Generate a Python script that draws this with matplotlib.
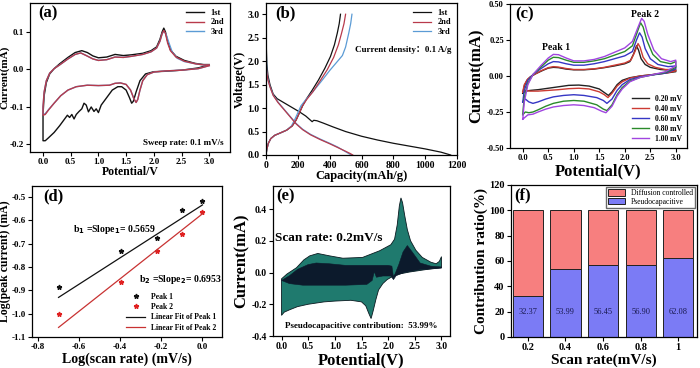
import numpy as np
import matplotlib
matplotlib.use("Agg")
import matplotlib.pyplot as plt

plt.rcParams['font.family'] = 'serif'
plt.rcParams['font.serif'] = ['Liberation Serif', 'DejaVu Serif']
plt.rcParams['font.weight'] = 'bold'
plt.rcParams['axes.labelweight'] = 'bold'
plt.rcParams['axes.unicode_minus'] = False
plt.rcParams['axes.linewidth'] = 0.9

# ---------------- (a) CV first three cycles ----------------
a_1st = [(3.0, 0.012), (2.8, 0.004), (2.5, -0.002), (2.2, -0.005), (2.0, -0.006), (1.85, -0.012),
         (1.75, -0.03), (1.68, -0.06), (1.63, -0.085), (1.6, -0.09), (1.56, -0.075), (1.5, -0.055),
         (1.42, -0.046), (1.35, -0.046), (1.25, -0.055), (1.15, -0.075), (1.05, -0.095), (1.0, -0.115),
         (0.96, -0.105), (0.92, -0.112), (0.87, -0.1), (0.82, -0.113), (0.78, -0.095), (0.74, -0.09),
         (0.7, -0.105), (0.65, -0.112), (0.6, -0.12), (0.56, -0.132), (0.52, -0.12), (0.48, -0.128),
         (0.44, -0.122), (0.4, -0.13), (0.3, -0.15), (0.2, -0.168), (0.1, -0.182), (0.04, -0.19),
         (0.0, -0.19), (0.0, -0.12), (0.02, -0.07), (0.06, -0.035), (0.12, -0.012), (0.2, 0.002),
         (0.3, 0.015), (0.45, 0.032), (0.58, 0.045), (0.7, 0.05), (0.8, 0.045), (0.9, 0.036),
         (1.0, 0.031), (1.15, 0.033), (1.3, 0.04), (1.45, 0.037), (1.6, 0.039), (1.8, 0.043),
         (1.95, 0.05), (2.05, 0.06), (2.11, 0.08), (2.15, 0.1), (2.18, 0.11), (2.21, 0.1),
         (2.25, 0.075), (2.3, 0.052), (2.4, 0.035), (2.55, 0.024), (2.75, 0.016), (2.9, 0.013), (3.0, 0.013)]
a_2nd = [(3.0, 0.01), (2.8, 0.002), (2.5, -0.002), (2.2, -0.004), (2.0, -0.007), (1.88, -0.014),
         (1.8, -0.03), (1.75, -0.055), (1.71, -0.08), (1.68, -0.088), (1.64, -0.078), (1.58, -0.055),
         (1.5, -0.04), (1.4, -0.036), (1.3, -0.037), (1.2, -0.042), (1.0, -0.043), (0.8, -0.042),
         (0.6, -0.046), (0.45, -0.055), (0.32, -0.07), (0.2, -0.09), (0.1, -0.108), (0.04, -0.12),
         (0.0, -0.122), (0.0, -0.1), (0.02, -0.06), (0.06, -0.03), (0.12, -0.01), (0.2, 0.002),
         (0.3, 0.012), (0.45, 0.028), (0.58, 0.04), (0.68, 0.044), (0.78, 0.037), (0.9, 0.028),
         (1.0, 0.024), (1.15, 0.026), (1.3, 0.033), (1.45, 0.032), (1.6, 0.035), (1.8, 0.04),
         (1.95, 0.047), (2.05, 0.057), (2.11, 0.075), (2.15, 0.095), (2.18, 0.104), (2.21, 0.096),
         (2.25, 0.07), (2.3, 0.05), (2.4, 0.033), (2.55, 0.022), (2.75, 0.015), (2.9, 0.012), (3.0, 0.012)]
a_3rd = [(3.0, 0.01), (2.8, 0.002), (2.5, -0.002), (2.2, -0.004), (2.0, -0.007), (1.88, -0.014),
         (1.8, -0.03), (1.75, -0.055), (1.71, -0.08), (1.68, -0.088), (1.64, -0.078), (1.58, -0.055),
         (1.5, -0.04), (1.4, -0.036), (1.3, -0.037), (1.2, -0.042), (1.0, -0.043), (0.8, -0.042),
         (0.6, -0.046), (0.45, -0.055), (0.32, -0.07), (0.2, -0.09), (0.1, -0.107), (0.04, -0.118),
         (0.0, -0.12), (0.0, -0.1), (0.02, -0.06), (0.06, -0.03), (0.12, -0.01), (0.2, 0.002),
         (0.3, 0.012), (0.45, 0.028), (0.58, 0.04), (0.68, 0.044), (0.78, 0.037), (0.9, 0.028),
         (1.0, 0.024), (1.15, 0.026), (1.3, 0.033), (1.45, 0.032), (1.6, 0.035), (1.8, 0.04),
         (1.95, 0.047), (2.05, 0.057), (2.11, 0.075), (2.15, 0.095), (2.18, 0.102), (2.22, 0.094),
         (2.27, 0.072), (2.33, 0.047), (2.42, 0.03), (2.55, 0.021), (2.75, 0.015), (2.9, 0.012), (3.0, 0.012)]

# ---------------- (b) charge / discharge ----------------
b_dis_1st = [(0, 2.8), (2, 2.3), (5, 1.95), (12, 1.7), (25, 1.5), (45, 1.3), (70, 1.2), (110, 1.12),
             (160, 1.02), (210, 0.92), (250, 0.83), (280, 0.74), (290, 0.71), (300, 0.74), (320, 0.73),
             (360, 0.68), (420, 0.6), (500, 0.5), (600, 0.4), (700, 0.32), (800, 0.25), (900, 0.19),
             (1000, 0.13), (1100, 0.06), (1160, 0.0)]
b_dis_2nd = [(0, 1.95), (5, 1.75), (12, 1.6), (25, 1.45), (45, 1.27), (75, 1.12), (110, 0.98),
             (150, 0.82), (190, 0.66), (230, 0.54), (280, 0.43), (340, 0.33), (400, 0.24), (450, 0.16),
             (500, 0.08), (530, 0.03), (545, 0.0)]
b_dis_3rd = [(0, 2.7), (2, 2.2), (5, 1.8), (12, 1.62), (25, 1.46), (45, 1.28), (75, 1.13), (110, 0.99),
             (150, 0.83), (190, 0.67), (230, 0.55), (280, 0.44), (340, 0.34), (400, 0.25), (450, 0.17),
             (490, 0.09), (520, 0.03), (535, 0.0)]
b_chg_1st = [(0, 0.0), (5, 0.12), (15, 0.25), (30, 0.35), (55, 0.42), (90, 0.47), (130, 0.53),
             (165, 0.62), (190, 0.75), (210, 0.9), (230, 1.05), (255, 1.2), (290, 1.38), (330, 1.6),
             (370, 1.85), (405, 2.1), (430, 2.35), (448, 2.6), (460, 2.8), (468, 3.0)]
b_chg_2nd = [(0, 0.0), (5, 0.12), (15, 0.25), (30, 0.35), (55, 0.42), (90, 0.47), (130, 0.53),
             (165, 0.62), (190, 0.75), (210, 0.9), (230, 1.05), (255, 1.18), (295, 1.35), (340, 1.58),
             (385, 1.82), (425, 2.08), (455, 2.35), (475, 2.6), (490, 2.8), (500, 3.0)]
b_chg_3rd = [(0, 0.0), (5, 0.12), (15, 0.25), (30, 0.35), (55, 0.42), (90, 0.47), (130, 0.53),
             (160, 0.62), (180, 0.75), (200, 0.9), (220, 1.05), (250, 1.18), (295, 1.35), (345, 1.56),
             (400, 1.8), (450, 2.0), (480, 2.12), (500, 2.3), (520, 2.6), (532, 2.8), (540, 3.0)]

# ---------------- (c) CV at different scan rates ----------------
c_labels = ['0.20 mV', '0.40 mV', '0.60 mV', '0.80 mV', '1.00 mV']
c_020 = [(0.0, -0.12), (0.03, -0.07), (0.08, -0.03), (0.15, -0.005), (0.25, 0.015), (0.4, 0.04),
         (0.5, 0.055), (0.6, 0.06), (0.7, 0.058), (0.85, 0.048), (1.0, 0.043), (1.2, 0.043),
         (1.4, 0.048), (1.6, 0.058), (1.8, 0.07), (2.0, 0.085), (2.1, 0.1), (2.17, 0.15), (2.23, 0.21),
         (2.27, 0.18), (2.32, 0.12), (2.4, 0.08), (2.5, 0.06), (2.7, 0.045), (2.9, 0.04), (3.0, 0.04),
         (3.0, 0.03), (2.8, 0.02), (2.5, 0.008), (2.3, 0.0), (2.1, -0.012), (1.95, -0.03),
         (1.85, -0.06), (1.75, -0.11), (1.68, -0.135), (1.62, -0.12), (1.5, -0.09), (1.3, -0.07),
         (1.1, -0.063), (0.9, -0.065), (0.7, -0.075), (0.5, -0.085), (0.3, -0.095), (0.15, -0.1),
         (0.05, -0.105), (0.0, -0.12)]
c_040 = [(0.0, -0.11), (0.03, -0.06), (0.1, -0.02), (0.2, 0.005), (0.35, 0.035), (0.5, 0.058),
         (0.6, 0.065), (0.7, 0.062), (0.85, 0.052), (1.0, 0.045), (1.2, 0.045), (1.4, 0.05),
         (1.6, 0.06), (1.8, 0.075), (2.0, 0.09), (2.12, 0.11), (2.2, 0.17), (2.26, 0.225), (2.3, 0.2),
         (2.36, 0.13), (2.45, 0.085), (2.6, 0.06), (2.8, 0.045), (3.0, 0.045),
         (3.0, 0.035), (2.8, 0.02), (2.5, 0.008), (2.3, 0.0), (2.1, -0.015), (1.95, -0.04),
         (1.85, -0.07), (1.75, -0.12), (1.67, -0.15), (1.6, -0.13), (1.5, -0.11), (1.3, -0.09),
         (1.1, -0.085), (0.9, -0.088), (0.7, -0.095), (0.5, -0.1), (0.3, -0.105), (0.15, -0.105),
         (0.05, -0.1), (0.0, -0.11)]
c_060 = [(0.0, -0.18), (0.03, -0.1), (0.1, -0.03), (0.2, 0.01), (0.35, 0.05), (0.5, 0.085),
         (0.6, 0.1), (0.7, 0.098), (0.85, 0.085), (1.0, 0.075), (1.2, 0.075), (1.4, 0.085),
         (1.6, 0.1), (1.8, 0.12), (2.0, 0.14), (2.15, 0.17), (2.23, 0.25), (2.29, 0.3), (2.34, 0.27),
         (2.4, 0.19), (2.5, 0.12), (2.65, 0.08), (2.85, 0.065), (3.0, 0.07),
         (3.0, 0.05), (2.8, 0.02), (2.5, 0.005), (2.3, -0.005), (2.1, -0.025), (1.95, -0.06),
         (1.85, -0.1), (1.75, -0.16), (1.65, -0.19), (1.58, -0.17), (1.45, -0.15), (1.2, -0.135),
         (1.0, -0.13), (0.8, -0.135), (0.6, -0.145), (0.45, -0.16), (0.3, -0.18), (0.2, -0.19),
         (0.12, -0.18), (0.05, -0.16), (0.0, -0.18)]
c_080 = [(0.0, -0.26), (0.03, -0.15), (0.1, -0.05), (0.2, 0.01), (0.35, 0.06), (0.5, 0.11),
         (0.6, 0.13), (0.7, 0.128), (0.85, 0.11), (1.0, 0.095), (1.2, 0.095), (1.4, 0.105),
         (1.6, 0.12), (1.8, 0.145), (2.0, 0.17), (2.15, 0.21), (2.24, 0.3), (2.31, 0.37), (2.36, 0.34),
         (2.43, 0.25), (2.55, 0.15), (2.7, 0.1), (2.9, 0.085), (3.0, 0.1),
         (3.0, 0.06), (2.8, 0.025), (2.5, 0.005), (2.3, -0.01), (2.1, -0.035), (1.95, -0.08),
         (1.85, -0.13), (1.75, -0.2), (1.65, -0.24), (1.58, -0.23), (1.45, -0.2), (1.2, -0.175),
         (1.0, -0.17), (0.8, -0.175), (0.6, -0.19), (0.45, -0.21), (0.3, -0.235), (0.2, -0.25),
         (0.12, -0.255), (0.05, -0.25), (0.0, -0.27)]
c_100 = [(0.0, -0.3), (0.03, -0.18), (0.1, -0.06), (0.2, 0.01), (0.35, 0.07), (0.5, 0.125),
         (0.6, 0.15), (0.7, 0.148), (0.85, 0.125), (1.0, 0.105), (1.2, 0.105), (1.4, 0.115),
         (1.6, 0.135), (1.8, 0.165), (2.0, 0.195), (2.15, 0.24), (2.25, 0.33), (2.33, 0.4), (2.38, 0.38),
         (2.45, 0.29), (2.57, 0.18), (2.72, 0.12), (2.9, 0.1), (3.0, 0.11),
         (3.0, 0.07), (2.8, 0.03), (2.5, 0.005), (2.3, -0.01), (2.1, -0.04), (1.95, -0.09),
         (1.85, -0.14), (1.75, -0.21), (1.63, -0.255), (1.55, -0.245), (1.4, -0.22), (1.2, -0.205),
         (1.0, -0.2), (0.8, -0.205), (0.6, -0.215), (0.45, -0.23), (0.3, -0.25), (0.2, -0.265),
         (0.1, -0.27), (0.0, -0.3)]

# ---------------- (d) log(i) vs log(v) ----------------
d_logv = [-0.699, -0.398, -0.222, -0.097, 0.0]
d_peak1 = [-0.887, -0.732, -0.675, -0.557, -0.52]
d_peak2 = [-1.0, -0.866, -0.732, -0.66, -0.567]
d_slope1, d_icpt1 = 0.5659, -0.535
d_slope2, d_icpt2 = 0.6953, -0.573

# ---------------- (e) capacitive contribution at 0.2 mV/s ----------------
e_total = [(0.0, -0.04), (0.1, -0.01), (0.28, 0.03), (0.42, 0.08), (0.53, 0.105), (0.68, 0.12),
           (0.9, 0.105), (1.15, 0.09), (1.52, 0.095), (1.84, 0.137), (2.05, 0.175), (2.12, 0.21),
           (2.17, 0.3), (2.21, 0.42), (2.24, 0.47), (2.27, 0.44), (2.31, 0.36), (2.36, 0.27),
           (2.42, 0.2), (2.52, 0.14), (2.64, 0.095), (2.8, 0.065), (2.9, 0.055), (2.96, 0.07),
           (3.0, 0.1), (3.0, 0.03), (2.7, 0.018), (2.4, 0.003), (2.2, -0.01), (2.08, -0.025),
           (1.98, -0.045), (1.9, -0.07), (1.82, -0.11), (1.77, -0.17), (1.72, -0.24), (1.68, -0.29),
           (1.64, -0.26), (1.58, -0.21), (1.5, -0.185), (1.3, -0.175), (1.0, -0.18), (0.8, -0.185),
           (0.5, -0.2), (0.3, -0.215), (0.15, -0.235), (0.05, -0.25), (0.0, -0.27)]
e_capacitive = [(0.0, -0.05), (0.15, -0.02), (0.3, 0.02), (0.5, 0.05), (0.65, 0.06), (0.9, 0.055),
                (1.2, 0.045), (1.6, 0.045), (2.0, 0.045), (2.07, 0.04), (2.1, -0.03), (2.14, 0.0),
                (2.2, 0.05), (2.28, 0.13), (2.36, 0.17), (2.45, 0.13), (2.6, 0.06), (2.8, 0.04),
                (3.0, 0.035), (3.0, 0.028), (2.6, 0.018), (2.3, 0.0), (2.15, -0.02), (2.1, -0.045),
                (2.05, -0.022), (1.9, -0.022), (1.78, -0.03), (1.74, 0.005), (1.7, -0.05),
                (1.6, -0.075), (1.2, -0.08), (0.8, -0.08), (0.4, -0.08), (0.15, -0.07), (0.0, -0.05)]

# ---------------- (f) contribution ratio ----------------
f_rates = ['0.2', '0.4', '0.6', '0.8', '1']
f_pseudo = [32.37, 53.99, 56.45, 56.90, 62.08]
f_diffusion = [67.63, 46.01, 43.55, 43.10, 37.92]

W, H = 700, 368
fig = plt.figure(figsize=(7.0, 3.68), dpi=100)


def add_ax(l, t, r, b):
    return fig.add_axes([l / W, 1 - b / H, (r - l) / W, (b - t) / H])


def xy(pts):
    arr = np.array(pts)
    return arr[:, 0], arr[:, 1]


def style(ax, fs):
    ax.tick_params(direction='out', length=3, width=0.8, labelsize=fs, pad=1.5)
    for lab in ax.get_xticklabels() + ax.get_yticklabels():
        lab.set_fontweight('bold')


# (a)
ax = add_ax(30, 3, 230, 152)
ax.plot(*xy(a_1st), color='#111111', lw=1.0, label='1st')
ax.plot(*xy(a_3rd), color='#5b9bd5', lw=1.0, label='3rd', zorder=2)
ax.plot(*xy(a_2nd), color='#b83a4b', lw=1.0, label='2nd', zorder=3)
ax.set_xlim(-0.235, 3.375)
ax.set_ylim(-0.22, 0.177)
ax.set_xticks(np.arange(0, 3.01, 0.5))
ax.set_yticks([-0.2, -0.1, 0.0, 0.1])
ax.set_xlabel('Potential/V', fontsize=8.5, labelpad=0)
ax.set_ylabel('Current(mA)', fontsize=8, labelpad=0)
h, l = ax.get_legend_handles_labels()
ax.legend([h[0], h[2], h[1]], [l[0], l[2], l[1]], loc='upper right', frameon=False, fontsize=6,
          handlelength=2.2, labelspacing=0.2, borderaxespad=0.3)
ax.text(0.04, 0.93, '(a)', transform=ax.transAxes, fontsize=12, va='center')
ax.text(0.97, 0.05, 'Sweep rate: 0.1 mV/s', transform=ax.transAxes, fontsize=6.5, ha='right')
style(ax, 6.5)

# (b)
ax = add_ax(266, 3, 457, 155)
ax.plot(*xy(b_dis_1st), color='#111111', lw=0.9, label='1st')
ax.plot(*xy(b_chg_1st), color='#111111', lw=0.9)
ax.plot(*xy(b_dis_3rd), color='#5b9bd5', lw=0.9, label='3rd')
ax.plot(*xy(b_chg_3rd), color='#5b9bd5', lw=0.9)
ax.plot(*xy(b_dis_2nd), color='#b83a4b', lw=0.9, label='2nd')
ax.plot(*xy(b_chg_2nd), color='#b83a4b', lw=0.9)
ax.set_xlim(0, 1200)
ax.set_ylim(0, 3.24)
ax.set_xticks(np.arange(0, 1201, 200))
ax.set_yticks(np.arange(0, 3.01, 0.5))
ax.set_xlabel('Capacity(mAh/g)', fontsize=9, labelpad=0)
ax.set_ylabel('Voltage(V)', fontsize=9, labelpad=1)
h, l = ax.get_legend_handles_labels()
ax.legend([h[0], h[2], h[1]], [l[0], l[2], l[1]], loc='upper right', frameon=False, fontsize=6,
          handlelength=2.2, labelspacing=0.2, borderaxespad=0.3)
ax.text(0.05, 0.93, '(b)', transform=ax.transAxes, fontsize=12, va='center')
ax.text(0.97, 0.68, 'Current density\uff1a0.1 A/g', transform=ax.transAxes, fontsize=6.5,
        ha='right', family=['Liberation Serif', 'Noto Sans CJK SC'])
style(ax, 7)

# (c)
ax = add_ax(510, 4, 687, 148)
c_colors = ['#222222', '#cc3b33', '#3636c4', '#2a8a2a', '#a045e0']
for pts, col, lab in zip([c_020, c_040, c_060, c_080, c_100], c_colors, c_labels):
    ax.plot(*xy(pts), color=col, lw=1.0, label=lab)
ax.set_xlim(-0.25, 3.22)
ax.set_ylim(-0.5, 0.5)
ax.set_xticks(np.arange(0, 3.01, 0.5))
ax.set_yticks([-0.5, -0.25, 0.0, 0.25, 0.5])
ax.set_yticklabels(['-0.50', '-0.25', '0.00', '0.25', '0.50'])
ax.set_xlabel('Potential(V)', fontsize=12, labelpad=1)
ax.set_ylabel('Current(mA)', fontsize=12, labelpad=1)
ax.legend(loc='lower right', frameon=False, fontsize=5.5, handlelength=2.2, labelspacing=0.25,
          borderaxespad=0.3)
ax.text(0.03, 0.93, '(c)', transform=ax.transAxes, fontsize=12, va='center')
ax.text(0.65, 0.2, 'Peak 1', fontsize=7, ha='center', va='center')
ax.text(2.39, 0.43, 'Peak 2', fontsize=7, ha='center', va='center')
style(ax, 6)

# (d)
ax = add_ax(32, 186, 222, 337)
ax.plot(d_logv, d_peak1, '*', color='#111111', ms=3.5, ls='none', label='Peak 1')
ax.plot(d_logv, d_peak2, '*', color='#e02020', ms=3.5, ls='none', label='Peak 2')
fx = np.array([d_logv[0], d_logv[-1]])
ax.plot(fx, d_icpt1 + d_slope1 * fx, color='#111111', lw=0.9, label='Linear Fit of Peak 1')
ax.plot(fx, d_icpt2 + d_slope2 * fx, color='#c83232', lw=0.9, label='Linear Fit of Peak 2')
ax.set_xlim(-0.828, 0.095)
ax.set_ylim(-1.1, -0.454)
ax.set_xticks(np.arange(-0.8, 0.01, 0.2))
ax.set_yticks(np.arange(-1.1, -0.49, 0.1))
ax.set_xticklabels(['-0.8', '-0.6', '-0.4', '-0.2', '0.0'])
ax.set_yticklabels(['-1.1', '-1.0', '-0.9', '-0.8', '-0.7', '-0.6', '-0.5'])
ax.set_xlabel('Log(scan rate) (mV/s)', fontsize=10, labelpad=1)
ax.set_ylabel('Log(peak current) (mA)', fontsize=8.5, labelpad=0)
ax.legend(loc='lower right', frameon=False, fontsize=5.5, handlelength=2.5, labelspacing=0.3,
          borderaxespad=0.3)
ax.text(0.06, 0.93, '(d)', transform=ax.transAxes, fontsize=12, va='center')
ax.text(-0.63, -0.638, 'b$_1$ =Slope$_1$= 0.5659', fontsize=7, va='center')
ax.text(-0.31, -0.852, 'b$_2$ =Slope$_2$= 0.6953', fontsize=7, va='center')
style(ax, 6.5)

# (e)
ax = add_ax(273, 186, 450, 336)
ex, ey = xy(e_total)
ax.fill(ex, ey, facecolor='#1f7a6e', edgecolor='#0a1a20', lw=0.6)
cx, cy = xy(e_capacitive)
ax.fill(cx, cy, facecolor='#0c1a2c', edgecolor='#0c1a2c', lw=0.4)
ax.set_xlim(-0.16, 3.16)
ax.set_ylim(-0.4, 0.545)
ax.set_xticks(np.arange(0, 3.01, 0.5))
ax.set_yticks([-0.4, -0.2, 0.0, 0.2, 0.4])
ax.set_xlabel('Potential(V)', fontsize=12, labelpad=1)
ax.set_ylabel('Current(mA)', fontsize=12, labelpad=1)
ax.text(0.02, 0.93, '(e)', transform=ax.transAxes, fontsize=12, va='center')
ax.text(-0.12, 0.22, 'Scan rate: 0.2mV/s', fontsize=9.5, va='center')
ax.text(0.06, -0.34, 'Pseudocapacitive contribution:  53.99%', fontsize=6.5, va='center')
style(ax, 7)

# (f)
ax = add_ax(511, 185, 697, 337)
pos = np.arange(len(f_rates))
ax.bar(pos, f_pseudo, width=0.8, color='#7b7bf5', edgecolor='#222222', lw=0.7,
       label='Pseudocapacitive')
ax.bar(pos, f_diffusion, width=0.8, bottom=f_pseudo, color='#f77f7f', edgecolor='#222222', lw=0.7,
       label='Diffusion controlled')
for p, v in zip(pos, f_pseudo):
    ax.text(p, 20, '%.2f' % v, ha='center', va='center', fontsize=6, fontweight='normal',
            color='#1a1a50')
ax.set_xlim(-0.45, 4.5)
ax.set_ylim(0, 120)
ax.set_xticks(pos)
ax.set_xticklabels(f_rates)
ax.set_yticks(np.arange(0, 121, 20))
ax.set_xlabel('Scan rate(mV/s)', fontsize=11, labelpad=1)
ax.set_ylabel('Contribution ratio(%)', fontsize=11, labelpad=1)
h, l = ax.get_legend_handles_labels()
ax.legend([h[1], h[0]], [l[1], l[0]], loc='upper right', prop={'weight': 'normal', 'size': 5.5},
          handlelength=2.2, handleheight=1.0, labelspacing=0.1, borderaxespad=0.2, borderpad=0.3,
          fancybox=False, edgecolor='#444444')
ax.text(0.02, 0.93, '(f)', transform=ax.transAxes, fontsize=12, va='center')
style(ax, 7.5)

fig.savefig('out.png', dpi=100)
